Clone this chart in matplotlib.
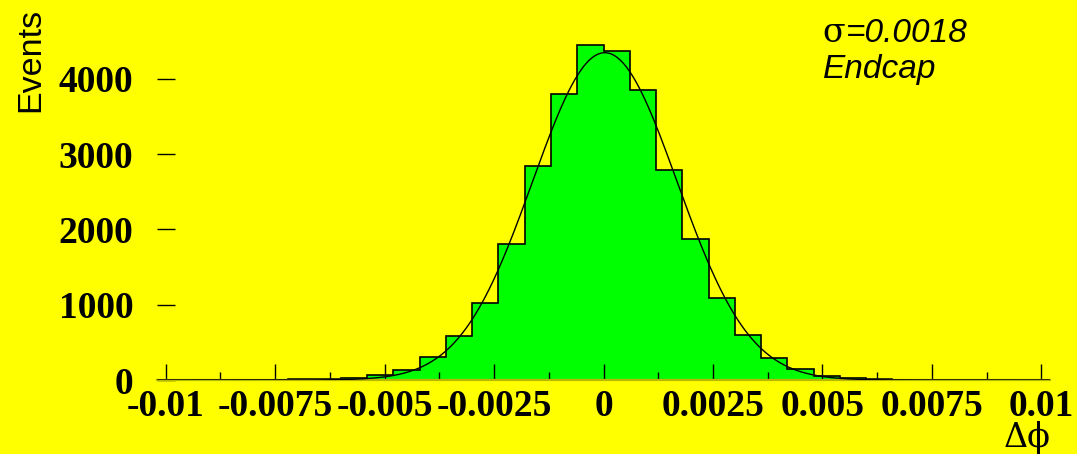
import numpy as np
import matplotlib
matplotlib.use("Agg")
import matplotlib.pyplot as plt
from matplotlib.ticker import MultipleLocator, FixedLocator

# histogram: 34 bins from -0.0102 to 0.0102
x_min, x_max, n_bins = -0.0102, 0.0102, 34
counts = [0, 0, 0, 0, 0, 8, 12, 30, 62, 129, 305, 580, 1018, 1806, 2846, 3794, 4445,
          4369, 3851, 2785, 1868, 1085, 602, 292, 146, 53, 22, 9, 0, 0, 0, 0, 0, 0]

# gaussian fit parameters
fit_amp = 4347
fit_mean = 0.00003
fit_sigma = 0.00165

x_ticks = [-0.01, -0.0075, -0.005, -0.0025, 0, 0.0025, 0.005, 0.0075, 0.01]
x_tick_labels = ["-0.01", "-0.0075", "-0.005", "-0.0025", "0", "0.0025", "0.005", "0.0075", "0.01"]
y_ticks = [0, 1000, 2000, 3000, 4000]
y_tick_labels = ["0", "1000", "2000", "3000", "4000"]

sigma_text = "=0.0018"
region_text = "Endcap"

YELLOW = "#ffff00"
GREEN = "#00ff00"

fig = plt.figure(figsize=(10.77, 4.54), dpi=100, facecolor=YELLOW)
W, H = 1077, 454
ax = fig.add_axes([157 / W, (H - 380) / H, 893 / W, 353.9 / H], facecolor=YELLOW)

edges = np.linspace(x_min, x_max, n_bins + 1)
ax.stairs(counts, edges, fill=True, color=GREEN, zorder=1)
ax.stairs(counts, edges, color="black", linewidth=1.2, zorder=2)

xf = np.linspace(x_min, x_max, 800)
yf = fit_amp * np.exp(-0.5 * ((xf - fit_mean) / fit_sigma) ** 2)
ax.plot(xf, yf, color="black", linewidth=1.0, zorder=3)

ax.set_xlim(x_min, x_max)
ax.set_ylim(0, 4700)

for s in ["top", "right", "left"]:
    ax.spines[s].set_visible(False)
ax.spines["bottom"].set_color((0.72, 0.72, 0.0))
ax.spines["bottom"].set_linewidth(1.6)

tick_font = dict(family="Liberation Serif", weight="bold", size=27)
ax.xaxis.set_major_locator(FixedLocator(x_ticks))
ax.xaxis.set_minor_locator(MultipleLocator(0.00125))
ax.set_xticklabels(x_tick_labels, fontdict=tick_font)
ax.yaxis.set_major_locator(FixedLocator(y_ticks))
ax.set_yticklabels(y_tick_labels, fontdict=tick_font)

ax.tick_params(axis="x", which="major", direction="in", length=11.5, width=1, color="black", pad=6.5)
ax.tick_params(axis="x", which="minor", direction="in", length=5.8, width=1, color="black")
ax.tick_params(axis="y", which="major", direction="in", length=13, width=1, color="black", pad=17)
ax.tick_params(axis="y", which="minor", left=False)

fig.text(31 / W, 1 - 8 / H, "Events", rotation=90, ha="center", va="top",
         family="Liberation Sans", size=24.5)
fig.text(1051 / W, 1 - 454 / H, "Δϕ", ha="right", va="bottom",
         family=["DejaVu Serif", "Liberation Serif"], size=24)

# sigma drawn upright, the rest in italic sans
sig = fig.text(822 / W, 1 - 41.7 / H, "σ", ha="left", va="baseline",
               family="DejaVu Serif", size=24)
fig.canvas.draw()
bb = sig.get_window_extent()
fig.text(bb.x1 / W + 1 / W, 1 - 41.7 / H, sigma_text, ha="left", va="baseline",
         family="Liberation Sans", style="italic", size=24)
fig.text(823 / W, 1 - 78.3 / H, region_text, ha="left", va="baseline",
         family="Liberation Sans", style="italic", size=24)

fig.savefig("out.png", dpi=100, facecolor=YELLOW)
